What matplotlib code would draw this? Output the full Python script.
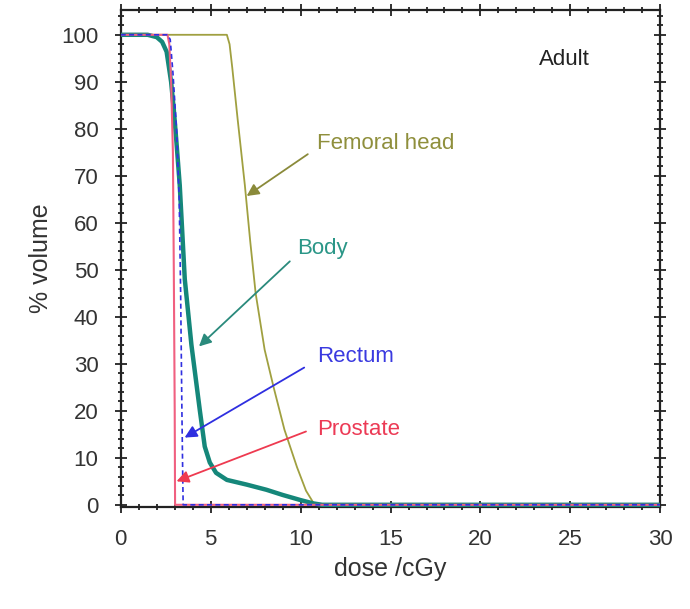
import matplotlib.pyplot as plt
from matplotlib.ticker import MultipleLocator

plt.rcParams['font.family'] = ['Liberation Sans', 'DejaVu Sans']

# dose-volume curves (dose in cGy, volume in %)
femoral_dose = [0, 5.9, 6.05, 6.2, 6.5, 6.9, 7.2, 7.5, 8.0, 8.5, 9.1, 9.8, 10.3, 10.7, 11.0, 30]
femoral_vol = [100, 100, 98, 93, 82, 68, 56, 45, 33, 25, 16, 8, 3, 0.5, 0, 0]

body_dose = [0, 1.5, 2.0, 2.3, 2.55, 2.8, 2.95, 3.1, 3.28, 3.56, 3.93, 4.4, 4.67, 4.95, 5.3, 5.9,
             7.0, 8.1, 9.0, 10.0, 10.7, 11.2, 30]
body_vol = [100, 100, 99.5, 98.5, 96.4, 90, 84, 77, 68, 48, 34, 20, 12.4, 9, 6.8, 5.3,
            4.3, 3.2, 2.1, 1, 0.3, 0, 0]

rectum_dose = [0, 2.6, 2.75, 2.9, 3.1, 3.25, 3.33, 3.4, 3.45, 3.47, 30]
rectum_vol = [100, 100, 99, 92, 80, 65, 45, 20, 5, 0, 0]

prostate_dose = [0, 2.6, 2.7, 2.8, 2.9, 2.95, 3.0, 3.02, 30]
prostate_vol = [100, 100, 98, 90, 75, 50, 20, 0, 0]

# label text position, arrow tail, arrow tip (data coords)
labels = ['Femoral head', 'Body', 'Rectum', 'Prostate']
label_xy = [(10.9, 76.8), (9.8, 54.5), (10.9, 31.5), (10.9, 16.0)]
tail_xy = [(10.4, 74.6), (9.4, 51.8), (10.2, 29.2), (10.3, 15.6)]
tip_xy = [(7.0, 65.7), (4.35, 33.7), (3.55, 14.3), (3.1, 5.0)]
label_colors = ['#8f8f3c', '#2a9687', '#3a3ae0', '#ec3a55']
arrow_colors = ['#8a8a3a', '#2a8a7c', '#2f2fe0', '#ee3a50']

fig = plt.figure(figsize=(6.9, 6.09), dpi=100)
ax = fig.add_axes([0.175, 0.168, 0.782, 0.815])

ax.plot(femoral_dose, femoral_vol, color='#a0a040', lw=1.3, zorder=2)
ax.plot(body_dose, body_vol, color='#15877a', lw=3.2, zorder=3)
ax.plot(prostate_dose, prostate_vol, color='#f06080', lw=1.5, zorder=4)
ax.plot(rectum_dose, rectum_vol, color='#3030e0', lw=1.2, ls=(0, (3, 2)), zorder=5)

for lab, lxy, txy, hxy, lc, ac in zip(labels, label_xy, tail_xy, tip_xy, label_colors, arrow_colors):
    ax.annotate('', xy=hxy, xytext=txy,
                arrowprops=dict(arrowstyle='-|>', color=ac, lw=1.3, mutation_scale=18,
                                shrinkA=0, shrinkB=0), zorder=6)
    ax.text(lxy[0], lxy[1], lab, color=lc, fontsize=16, va='center', ha='left')

ax.text(0.775, 0.9, 'Adult', transform=ax.transAxes, fontsize=16, color='#222222',
        ha='left', va='center')

ax.set_xlim(0, 30)
ax.set_ylim(-0.4, 105.2)
ax.xaxis.set_major_locator(MultipleLocator(5))
ax.xaxis.set_minor_locator(MultipleLocator(1))
ax.yaxis.set_major_locator(MultipleLocator(10))
ax.yaxis.set_minor_locator(MultipleLocator(2))
ax.tick_params(which='both', direction='inout', top=True, right=True,
               labelsize=16, colors='#222222', labelcolor='#333333', width=1.3)
ax.tick_params(which='major', length=8)
ax.tick_params(which='minor', length=5)
ax.tick_params(axis='x', which='major', pad=12)
ax.tick_params(axis='y', which='major', pad=12)
for s in ax.spines.values():
    s.set_linewidth(1.6)
    s.set_color('#222222')

ax.set_xlabel('dose /cGy', fontsize=18, color='#333333', labelpad=5)
ax.set_ylabel('% volume', fontsize=18, color='#333333', labelpad=6)

fig.savefig('out.png', dpi=100)
